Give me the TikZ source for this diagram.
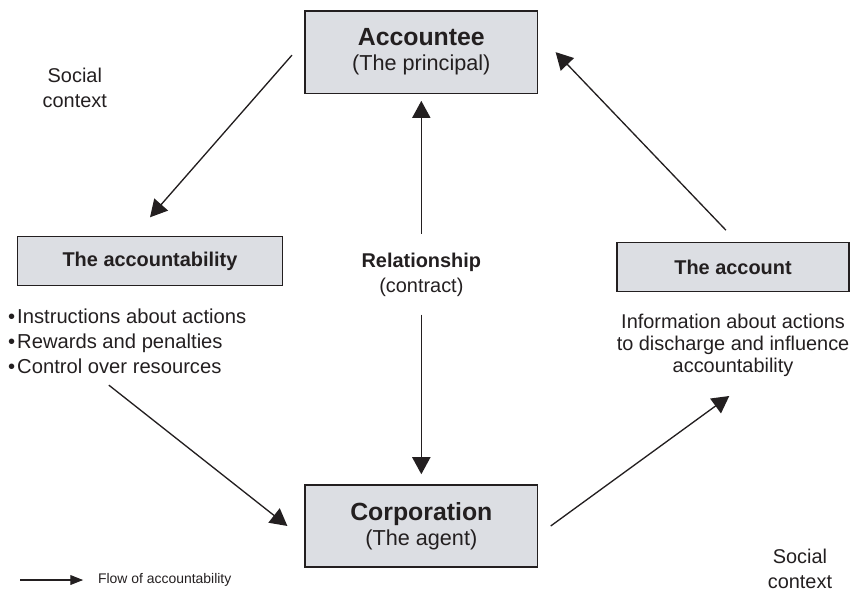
\documentclass[tikz,border=0pt]{standalone}
\usepackage{fontspec}
\setmainfont{Liberation Sans}
\usetikzlibrary{arrows.meta,positioning}

\definecolor{boxgray}{RGB}{220,222,227}
\definecolor{inkdark}{RGB}{35,31,32}

\newcommand{\pt}{\textbullet\kern1.5pt}

\tikzset{
	party/.style={draw=inkdark, line width=1.1pt, fill=boxgray, minimum width=6.15cm, minimum height=2.18cm, align=center, font=\fontsize{16.3}{18.75}\selectfont},
	stage/.style={draw=inkdark, line width=1.1pt, fill=boxgray, minimum height=1.3cm, font=\fontsize{15}{18}\selectfont\bfseries},
	body/.style={align=center, font=\fontsize{15}{18.75}\selectfont},
	flow/.style={-{Triangle[length=4.5mm,width=4.8mm]}, line width=1pt, draw=inkdark},
}

\begin{document}
\begin{tikzpicture}[color=inkdark]
	\useasboundingbox (0,0) rectangle (22.68,15.64);

	% the two parties
	\node[party] (accountee) at (11.15,14.26) {{\fontsize{18.7}{18.75}\selectfont\bfseries Accountee}\\(The principal)};
	\node[party] (corp) at (11.15,1.72) {{\fontsize{18.7}{18.75}\selectfont\bfseries Corporation}\\(The agent)};

	% what flows between them
	\node[stage, minimum width=7.01cm] (accountability) at (3.97,8.73) {The accountability};
	\node[stage, minimum width=6.14cm] (account) at (19.40,8.57) {The account};
	\node[body] (relation) at (11.15,8.36) {\textbf{Relationship}\\(contract)};

	\node[body, align=left, anchor=west, inner sep=0pt, font=\fontsize{15.2}{18.75}\selectfont] (actions) at (0.21,6.61)
		{\pt Instructions about actions\\\pt Rewards and penalties\\\pt Control over resources};
	\node[body, font=\fontsize{15}{16.5}\selectfont] (info) at (19.40,6.51)
		{Information about actions\\to discharge and influence\\accountability};

	\node[body] (ctxtop) at (1.98,13.32) {Social\\context};
	\node[body, inner sep=0pt] (ctxbottom) at (21.17,0.58) {Social\\context};

	% arrows
	\draw[flow] ([xshift=-3.3mm,yshift=-0.8mm]accountee.west) -- ([yshift=4.9mm]accountability.north);
	\draw[flow] ([xshift=2.67cm,yshift=-3mm]actions.south west) -- ([xshift=-4.5mm]corp.west);
	\draw[flow] ([xshift=3.3mm]corp.east) -- ([xshift=-1mm,yshift=-4mm]info.south);
	\draw[flow] ([xshift=-1.9mm,yshift=3.1mm]account.north) -- ([xshift=4.6mm]accountee.east);
	\draw[flow] ([yshift=4mm]relation.north) -- ([yshift=-1.8mm]accountee.south);
	\draw[flow] ([yshift=-3.5mm]relation.south) -- ([yshift=2.6mm]corp.north);

	% key
	\coordinate (keystart) at (0.53,0.29);
	\node[anchor=west, font=\fontsize{10.5}{12}\selectfont] (flowkey) at (2.47,0.29) {Flow of accountability};
	\draw[flow, -{Triangle[length=3.4mm,width=2.6mm]}, line width=0.8pt] (keystart) -- ([xshift=-2.7mm]flowkey.west);
\end{tikzpicture}
\end{document}
